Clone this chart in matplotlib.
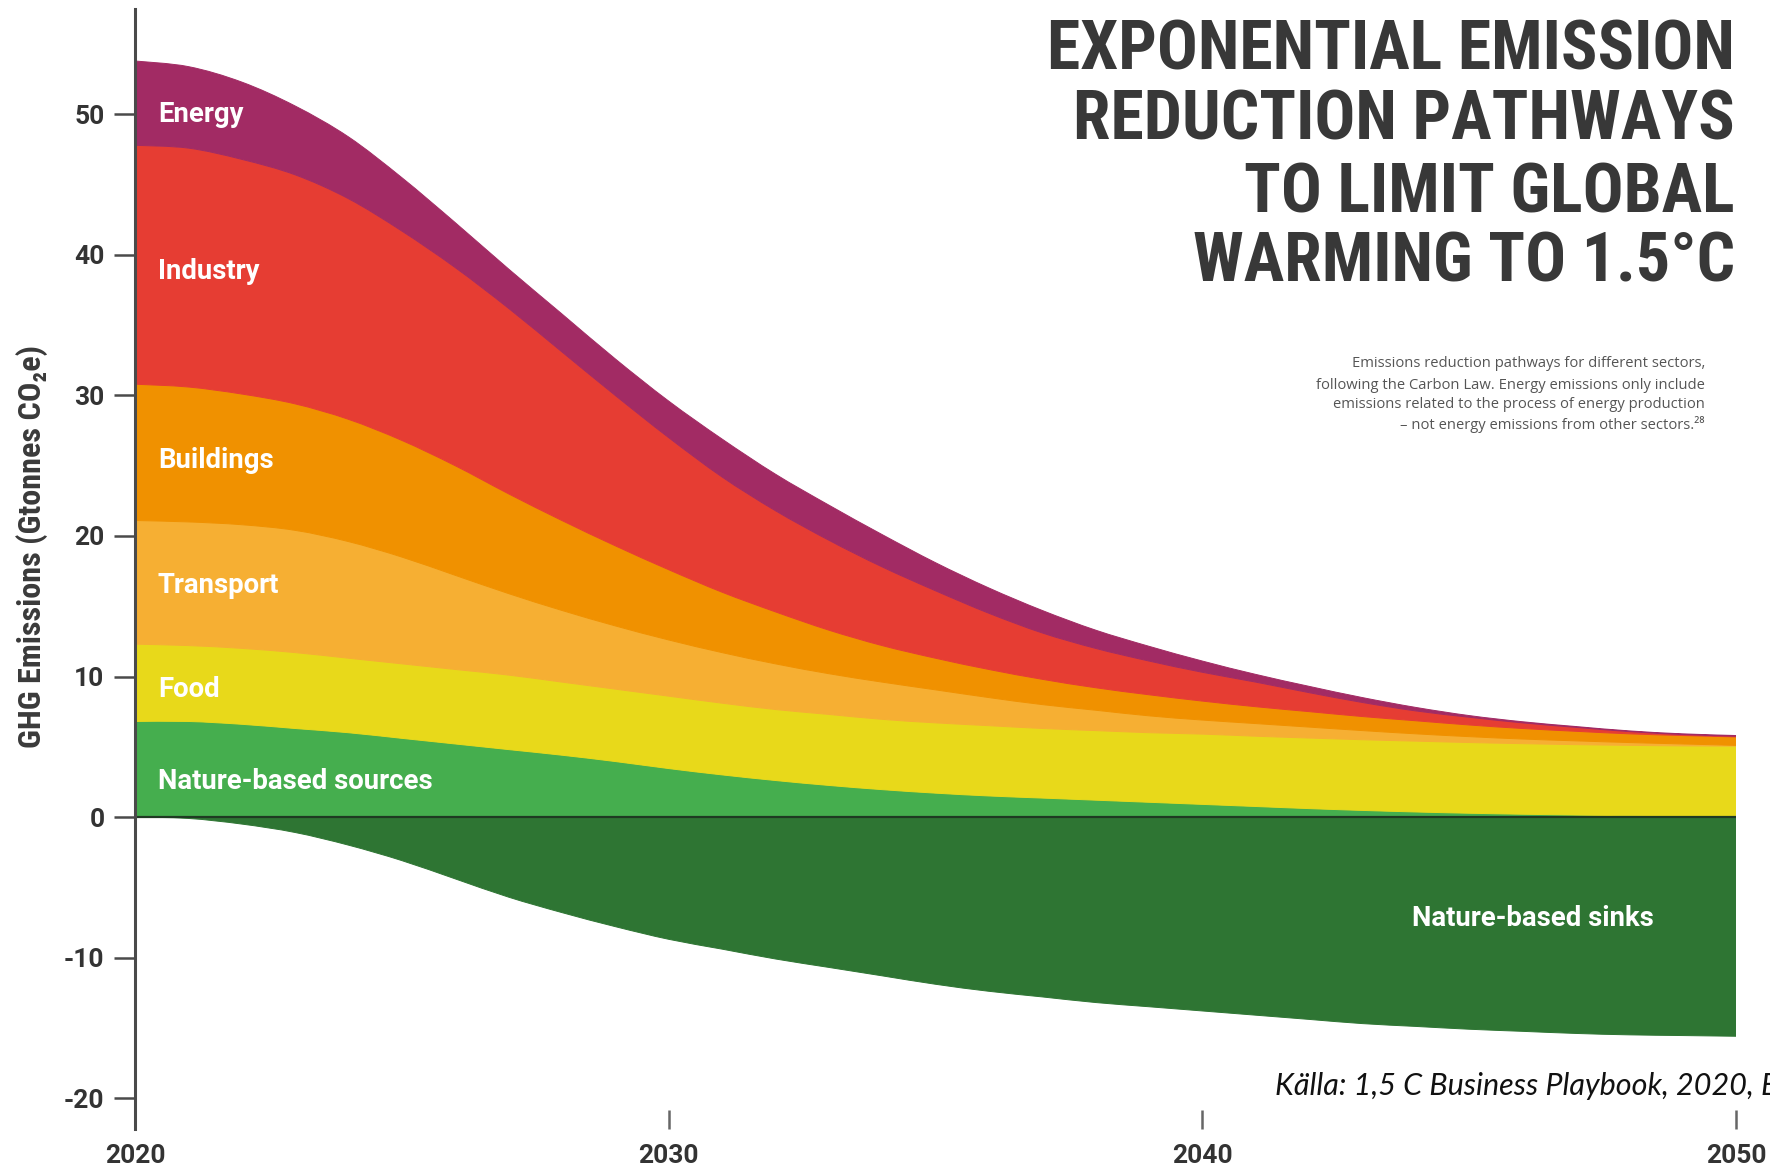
import matplotlib
matplotlib.use("Agg")
import matplotlib.pyplot as plt
import numpy as np
from matplotlib.path import Path
from matplotlib.patches import PathPatch
from matplotlib import font_manager as fm
from matplotlib.font_manager import FontProperties

# ---------------- data (Gt CO2e per sector) ----------------
years = list(range(2020, 2051))

energy = [6.0, 5.8, 5.5, 4.9, 4.4, 3.8, 3.2, 2.8, 2.7, 2.6, 2.6, 2.7, 2.6, 2.5, 2.3, 2.0,
          1.8, 1.6, 1.3, 1.05, 0.8, 0.55, 0.45, 0.35, 0.25, 0.12, 0.08, 0.06, 0.05, 0.05, 0.05]
industry = [17.0, 17.0, 16.7, 16.3, 15.7, 14.9, 14.1, 13.2, 12.0, 10.7, 9.4, 8.2, 7.2, 6.4, 5.6, 4.8,
            4.0, 3.3, 2.8, 2.4, 2.05, 1.75, 1.35, 1.0, 0.7, 0.55, 0.4, 0.28, 0.16, 0.07, 0.05]
buildings = [9.7, 9.6, 9.3, 9.0, 8.7, 8.3, 7.8, 7.1, 6.4, 5.7, 5.0, 4.3, 3.7, 3.1, 2.6, 2.25,
             2.0, 1.8, 1.6, 1.5, 1.35, 1.2, 1.1, 1.0, 0.93, 0.83, 0.75, 0.68, 0.62, 0.6, 0.6]
transport = [8.8, 8.8, 8.8, 8.7, 8.3, 7.6, 6.7, 5.8, 5.1, 4.5, 4.0, 3.6, 3.25, 2.9, 2.65, 2.35,
             2.0, 1.7, 1.45, 1.2, 1.0, 0.9, 0.78, 0.65, 0.52, 0.42, 0.33, 0.27, 0.2, 0.14, 0.05]
food = [5.5, 5.4, 5.4, 5.4, 5.3, 5.3, 5.3, 5.3, 5.2, 5.15, 5.15, 5.1, 5.05, 5.05, 5.0, 5.0,
        5.0, 4.95, 4.95, 4.95, 5.0, 5.0, 5.02, 5.03, 5.04, 5.03, 5.02, 5.01, 5.01, 5.02, 5.05]
nature_sources = [6.8, 6.8, 6.6, 6.3, 6.0, 5.6, 5.2, 4.8, 4.4, 3.95, 3.45, 3.0, 2.6, 2.25, 1.95, 1.7,
                  1.5, 1.35, 1.2, 1.05, 0.9, 0.75, 0.6, 0.47, 0.36, 0.27, 0.2, 0.14, 0.09, 0.04, 0.0]
nature_sinks = [0.0, -0.1, -0.5, -1.1, -2.0, -3.1, -4.4, -5.7, -6.8, -7.8, -8.7, -9.4, -10.1, -10.7,
                -11.3, -11.9, -12.4, -12.8, -13.2, -13.5, -13.8, -14.1, -14.4, -14.7, -14.9, -15.1,
                -15.25, -15.4, -15.5, -15.55, -15.6]

y_ticks = [-20, -10, 0, 10, 20, 30, 40, 50]
x_ticks = [2020, 2030, 2040, 2050]

title_lines = ["EXPONENTIAL EMISSION", "REDUCTION PATHWAYS", "TO LIMIT GLOBAL", "WARMING TO 1.5°C"]
subtitle_lines = ["Emissions reduction pathways for different sectors,",
                  "following the Carbon Law. Energy emissions only include",
                  "emissions related to the process of energy production",
                  "\u2013 not energy emissions from other sectors.\u00b2\u2078"]
ylabel = "GHG Emissions (Gtonnes CO\u2082e)"
source = "Källa: 1,5 C Business Playbook, 2020, Exponential Roadmap Initiative"

# ---------------- styling ----------------
c_energy = "#A22B64"
c_industry = "#E63D33"
c_buildings = "#F09100"
c_transport = "#F6AF33"
c_food = "#E8D91A"
c_sources = "#45AE4E"
c_sinks = "#2E7533"


def pick_condensed_bold():
    order = ["Liberation Sans Narrow", "Roboto Condensed", "Noto Sans", "Noto Sans Condensed",
             "Open Sans", "Open Sans Condensed", "DejaVu Sans", "DejaVu Sans Condensed"]
    best, best_key = None, None
    for f in fm.fontManager.ttflist:
        tag = (str(f.stretch) + " " + f.fname + " " + f.name).lower()
        if "italic" in tag or "oblique" in tag:
            continue
        w = f.weight
        if not isinstance(w, (int, float)):
            w = {"bold": 700, "heavy": 800, "black": 900, "semibold": 600,
                 "demibold": 600, "extra bold": 800}.get(str(w).lower(), 400)
        if w < 600:
            continue
        if "narrow" in tag or "condensed" in tag:
            if "semi" in tag:
                s = 2
            elif "extra" in tag or "ultra" in tag:
                s = 1
            else:
                s = 0
        else:
            continue
        nm = order.index(f.name) if f.name in order else len(order)
        key = (s, abs(w - 700), nm)
        if best_key is None or key < best_key:
            best, best_key = f, key
    if best is None:
        return FontProperties(family="DejaVu Sans", weight="bold")
    return FontProperties(fname=best.fname)


cond_fp = pick_condensed_bold()

W, H = 1770, 1166
fig = plt.figure(figsize=(W / 100, H / 100), dpi=100)
fig.patch.set_facecolor("white")


def fx(px):
    return px / W


def fy(py):
    return 1 - py / H


ax = fig.add_axes([fx(135), fy(1129), fx(1736) - fx(135), fy(9) - fy(1129)])
ax.set_xlim(2020, 2050)
ax.set_ylim(-22.2, 57.5)


def curve_verts(xs, ys):
    """Cubic Bezier (Catmull-Rom) segments through the points."""
    n = len(xs)
    out = []
    for i in range(n - 1):
        x0, y0 = xs[max(i - 1, 0)], ys[max(i - 1, 0)]
        x1, y1 = xs[i], ys[i]
        x2, y2 = xs[i + 1], ys[i + 1]
        x3, y3 = xs[min(i + 2, n - 1)], ys[min(i + 2, n - 1)]
        out += [(x1 + (x2 - x0) / 6, y1 + (y2 - y0) / 6),
                (x2 - (x3 - x1) / 6, y2 - (y3 - y1) / 6),
                (x2, y2)]
    return out


def smooth_band(xs, lower, upper, color):
    xs = list(xs)
    up = curve_verts(xs, list(upper))
    lo = curve_verts(xs[::-1], list(lower)[::-1])
    verts = [(xs[0], lower[0]), (xs[0], upper[0])] + up + [(xs[-1], lower[-1])] + lo + [(xs[0], lower[0])]
    codes = ([Path.MOVETO, Path.LINETO] + [Path.CURVE4] * len(up) + [Path.LINETO]
             + [Path.CURVE4] * len(lo) + [Path.CLOSEPOLY])
    patch = PathPatch(Path(verts, codes), facecolor=color, edgecolor=color, lw=0.7)
    ax.add_patch(patch)


layers = [nature_sources, food, transport, buildings, industry, energy]
layer_colors = [c_sources, c_food, c_transport, c_buildings, c_industry, c_energy]
base = np.zeros(len(years))
for vals, col in zip(layers, layer_colors):
    top = base + np.array(vals)
    smooth_band(years, base, top, col)
    base = top
smooth_band(years, np.array(nature_sinks), np.zeros(len(years)), c_sinks)
ax.plot([2020, 2050], [0, 0], color="#1f3a22", lw=1.6, zorder=3)

for s in ["top", "right", "bottom"]:
    ax.spines[s].set_visible(False)
ax.spines["left"].set_color("#4a4a4a")
ax.spines["left"].set_linewidth(2.2)
ax.spines["left"].set_zorder(5)

ax.set_yticks(y_ticks)
ax.set_yticklabels([str(v) for v in y_ticks])
ax.tick_params(axis="y", direction="out", length=15, width=1.8, color="#4a4a4a",
               pad=7, labelsize=19, labelcolor="#333333")
ax.set_xticks(x_ticks)
ax.set_xticklabels([str(v) for v in x_ticks])
ax.tick_params(axis="x", direction="in", length=14, width=1.8, color="#666666",
               pad=11, labelsize=19, labelcolor="#333333")
for lab in ax.get_yticklabels() + ax.get_xticklabels():
    lab.set_fontfamily("Roboto")
    lab.set_fontweight("bold")

# layer labels
lab_kw = dict(color="white", fontsize=19.8, fontweight="bold", family="Roboto", va="center")
ax.text(2020.43, 50.0, "Energy", **lab_kw)
ax.text(2020.43, 38.8, "Industry", **lab_kw)
ax.text(2020.43, 25.35, "Buildings", **lab_kw)
ax.text(2020.43, 16.5, "Transport", **lab_kw)
ax.text(2020.43, 9.1, "Food", **lab_kw)
ax.text(2020.43, 2.55, "Nature-based sources", **lab_kw)
ax.text(2046.2, -7.2, "Nature-based sinks", ha="center", **lab_kw)

# y label
yl = fig.text(fx(32), fy(546), ylabel, rotation=90, ha="center", va="center",
              fontproperties=cond_fp, fontsize=23, color="#3a3a3a")

# title
baselines = [70, 140, 212, 282]
title_texts = []
for line, b in zip(title_lines, baselines):
    t = fig.text(fx(1735), fy(b), line, ha="right", va="baseline",
                 fontproperties=cond_fp, fontsize=49, color="#383838")
    title_texts.append(t)

# subtitle
sub_base = [367, 389, 408, 429]
for line, b in zip(subtitle_lines, sub_base):
    fig.text(fx(1705), fy(b), line, ha="right", va="baseline", fontsize=10.6,
             family=["Open Sans", "DejaVu Sans"], color="#555555")

# source
fig.text(fx(1275), fy(1086), source, ha="left", va="center", fontsize=22, style="italic",
         family=["Lato", "DejaVu Sans"], color="#111111")

# fit the condensed texts to the widths seen in the chart
fig.canvas.draw()
r = fig.canvas.get_renderer()
w0 = title_texts[0].get_window_extent(r).width
scale = min(1.15, 687.0 / w0)
for t in title_texts:
    t.set_fontsize(49 * scale)
h0 = yl.get_window_extent(r).height
yl.set_fontsize(23 * min(1.15, 405.0 / h0))

fig.savefig("out.png", dpi=100, facecolor="white")
